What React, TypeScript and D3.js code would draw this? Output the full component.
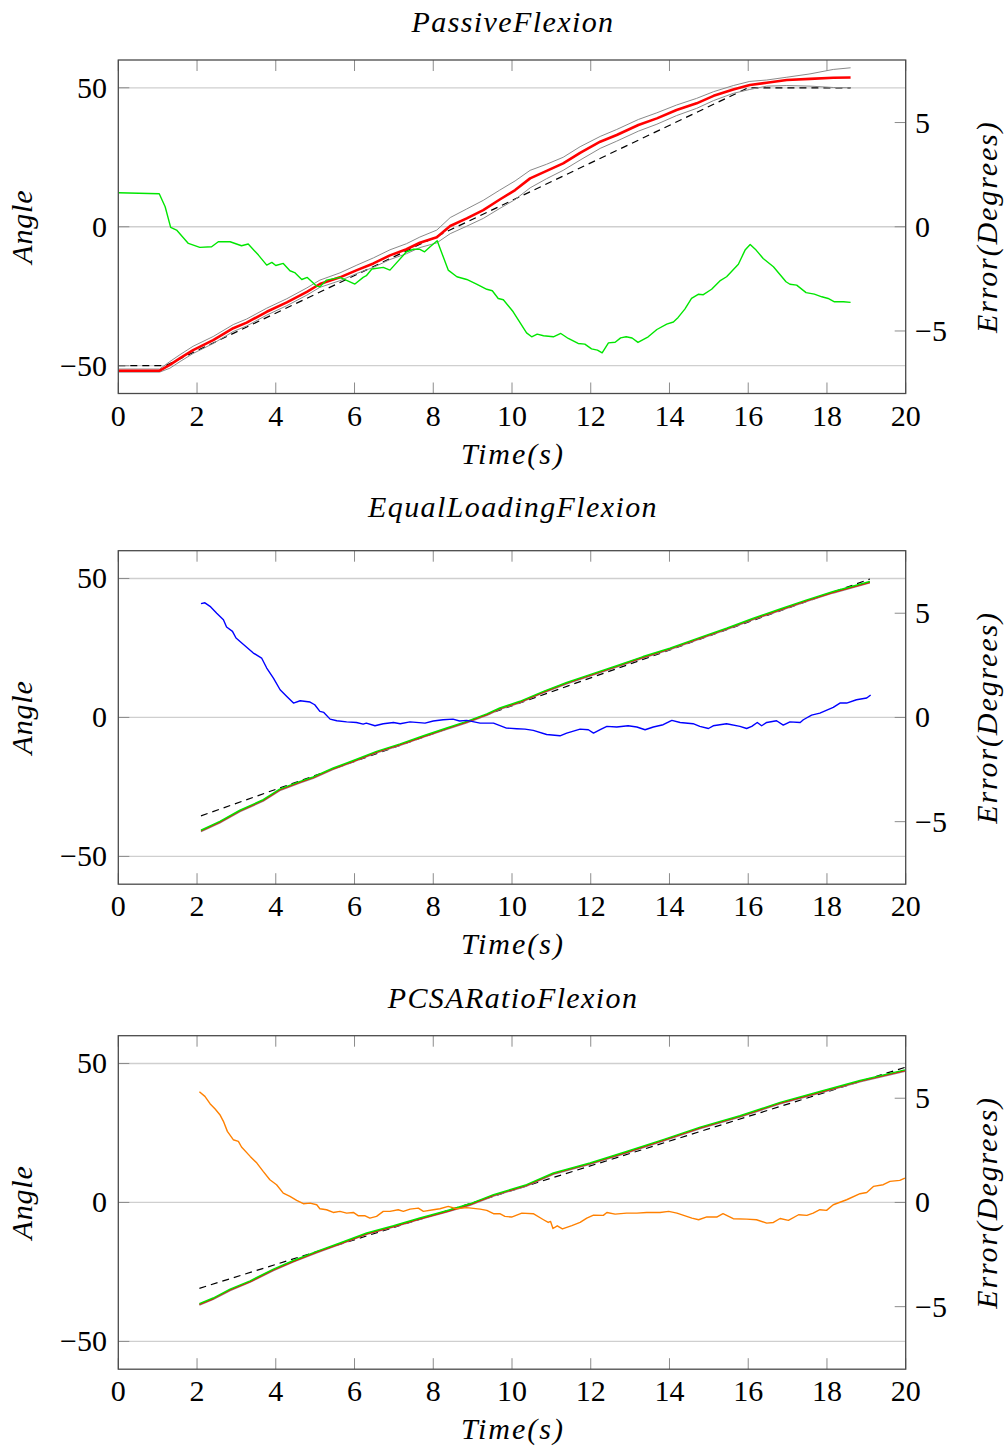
import React from 'react';
import * as d3 from 'd3';

// ---------- shared ticks ----------
const timeTicks = [0, 2, 4, 6, 8, 10, 12, 14, 16, 18, 20];
const angleTicks = [-50, 0, 50];
const errorTicks = [-5, 0, 5];
const titles = ['PassiveFlexion', 'EqualLoadingFlexion', 'PCSARatioFlexion'];

// ---------- Panel 1: Passive Flexion ----------
const p1DesiredT = [0, 1.2, 16.0, 18.6];
const p1DesiredV = [-50, -50, 50, 50];
const p1T = [0, 1.05, 1.31, 1.57, 1.9, 2.41, 2.92, 3.26, 3.77, 4.28, 4.79, 5.12, 5.63, 6.06, 6.48, 6.9, 7.32, 7.66, 8.09, 8.43, 8.85, 9.27, 9.69, 10.08, 10.46, 10.88, 11.3, 11.73, 12.24, 12.66, 13.21, 13.68, 14.18, 14.69, 15.12, 15.62, 16.04, 16.47, 16.98, 17.57, 18.16, 18.6];
const p1Mean = [-51.8, -51.8, -49.7, -47.3, -44.4, -40.8, -36.5, -34.5, -30.6, -27.2, -23.4, -20.6, -18.2, -15.6, -13.2, -10.3, -8.1, -5.75, -3.8, 0.25, 3.0, 6.0, 9.8, 13.2, 17.4, 20.1, 22.8, 26.6, 30.6, 33, 36.6, 39, 42, 44.4, 47.1, 49.4, 51, 51.8, 52.8, 53.2, 53.6, 53.7];
const p1Upper = [-51.2, -51.2, -48.5, -46.0, -43.0, -39.5, -35.2, -33.2, -29.3, -25.9, -22.0, -19.2, -16.6, -13.8, -11.2, -8.3, -6.1, -3.7, -1.2, 3.3, 6.4, 9.5, 13.2, 16.5, 20.3, 22.5, 25.0, 28.8, 32.5, 35.0, 38.6, 41.0, 43.8, 46.2, 48.6, 50.8, 52.3, 52.8, 53.8, 55.0, 56.6, 57.2];
const p1Lower = [-52.3, -52.3, -50.9, -48.5, -45.6, -42.0, -37.7, -35.7, -31.8, -28.4, -24.6, -21.8, -19.4, -16.8, -14.6, -11.8, -9.7, -7.5, -5.8, -2.5, 0.2, 3.0, 6.6, 9.8, 14.0, 17.3, 20.3, 24.0, 28.2, 30.8, 34.4, 36.9, 40.0, 42.6, 45.4, 48.0, 49.4, 50.6, 50.8, 50.6, 50.1, 50.0];
const p1ErrT = [0, 1.04, 1.19, 1.33, 1.48, 1.78, 2.07, 2.37, 2.54, 2.84, 3.13, 3.3, 3.56, 3.77, 3.9, 4.0, 4.19, 4.36, 4.48, 4.66, 4.8, 5.04, 5.12, 5.29, 5.63, 6.01, 6.22, 6.3, 6.44, 6.73, 6.9, 7.32, 7.5, 7.66, 7.78, 7.92, 8.1, 8.38, 8.6, 8.85, 9.1, 9.36, 9.5, 9.65, 9.78, 10.03, 10.37, 10.5, 10.64, 10.8, 11.05, 11.24, 11.43, 11.68, 11.85, 12.02, 12.17, 12.29, 12.45, 12.62, 12.76, 12.9, 13.05, 13.2, 13.46, 13.68, 13.93, 14.1, 14.22, 14.39, 14.56, 14.73, 14.86, 15.07, 15.28, 15.45, 15.75, 15.92, 16.05, 16.2, 16.38, 16.64, 16.96, 17.06, 17.23, 17.47, 17.68, 17.87, 18.03, 18.19, 18.42, 18.6];
const p1ErrV = [1.63, 1.58, 0.96, -0.03, -0.16, -0.8, -0.99, -0.96, -0.72, -0.72, -0.91, -0.83, -1.36, -1.84, -1.71, -1.86, -1.76, -2.11, -2.2, -2.53, -2.43, -2.85, -2.88, -2.56, -2.43, -2.75, -2.43, -2.35, -2.03, -1.95, -2.08, -1.2, -1.08, -1.08, -1.2, -0.96, -0.67, -2.08, -2.4, -2.53, -2.75, -3.0, -3.07, -3.44, -3.5, -4.08, -5.09, -5.28, -5.15, -5.23, -5.28, -5.12, -5.36, -5.6, -5.63, -5.86, -5.92, -6.05, -5.57, -5.54, -5.33, -5.28, -5.34, -5.55, -5.28, -4.93, -4.67, -4.57, -4.35, -3.95, -3.44, -3.24, -3.26, -3.0, -2.6, -2.4, -1.8, -1.12, -0.85, -1.12, -1.52, -1.92, -2.64, -2.76, -2.8, -3.16, -3.23, -3.36, -3.44, -3.6, -3.6, -3.63];

// ---------- Panel 2: Equal Loading Flexion ----------
const p2DesiredT = [2.1, 19.09];
const p2DesiredV = [-35.4, 49.8];
const p2T = [2.1, 2.58, 3.09, 3.68, 4.1, 4.62, 4.95, 5.46, 5.97, 6.56, 7.16, 7.75, 8.34, 8.85, 9.36, 9.69, 10.2, 10.8, 11.39, 11.98, 12.66, 13.33, 14.01, 14.78, 15.45, 16.13, 16.81, 17.49, 18.16, 19.09];
const p2Angle = [-40.6, -37.4, -33.4, -29.6, -25.8, -23, -21.4, -18.2, -15.5, -12.2, -9.5, -6.6, -3.8, -1.4, 1.3, 3.4, 5.8, 9.4, 12.6, 15.4, 18.6, 21.9, 24.9, 28.8, 32.1, 35.7, 39, 42.3, 45.3, 48.9];
const p2ErrT = [2.1, 2.2, 2.33, 2.5, 2.67, 2.75, 2.9, 2.99, 3.18, 3.43, 3.64, 3.77, 3.94, 4.11, 4.28, 4.45, 4.62, 4.87, 4.99, 5.12, 5.22, 5.38, 5.55, 5.8, 6.05, 6.22, 6.3, 6.52, 6.73, 6.99, 7.16, 7.41, 7.79, 8.0, 8.25, 8.5, 8.67, 8.85, 9.19, 9.53, 9.86, 10.12, 10.33, 10.54, 10.88, 11.22, 11.39, 11.73, 11.94, 12.07, 12.24, 12.41, 12.66, 12.95, 13.17, 13.38, 13.59, 13.84, 14.06, 14.27, 14.6, 14.77, 14.99, 15.11, 15.45, 15.79, 15.96, 16.09, 16.23, 16.34, 16.47, 16.72, 16.89, 17.06, 17.32, 17.4, 17.61, 17.82, 18.16, 18.33, 18.5, 18.75, 19.01, 19.11];
const p2ErrV = [5.46, 5.5, 5.33, 5.0, 4.69, 4.34, 4.13, 3.81, 3.5, 3.09, 2.85, 2.37, 1.89, 1.33, 1.01, 0.69, 0.8, 0.74, 0.61, 0.29, 0.24, -0.08, -0.16, -0.21, -0.24, -0.32, -0.27, -0.4, -0.3, -0.24, -0.3, -0.21, -0.27, -0.17, -0.11, -0.08, -0.17, -0.14, -0.27, -0.27, -0.51, -0.54, -0.56, -0.62, -0.82, -0.88, -0.75, -0.56, -0.59, -0.75, -0.59, -0.43, -0.46, -0.4, -0.46, -0.59, -0.46, -0.35, -0.14, -0.24, -0.3, -0.43, -0.53, -0.4, -0.3, -0.43, -0.53, -0.43, -0.24, -0.4, -0.24, -0.16, -0.37, -0.21, -0.24, -0.11, 0.11, 0.21, 0.48, 0.69, 0.69, 0.85, 0.93, 1.08];

// ---------- Panel 3: PCSA Ratio Flexion ----------
const p3DesiredT = [2.06, 19.98];
const p3DesiredV = [-30.9, 48.6];
const p3T = [2.06, 2.41, 2.84, 3.35, 3.94, 4.45, 5.04, 5.63, 6.31, 6.99, 7.66, 8.34, 8.93, 9.53, 10.37, 11.05, 11.98, 12.91, 13.84, 14.78, 15.79, 16.81, 17.82, 18.84, 19.98];
const p3Angle = [-36.4, -34.4, -31.2, -28.2, -24, -20.9, -17.6, -14.6, -11, -8.4, -5.6, -3.0, -0.5, 2.8, 6.4, 10.6, 14.2, 18.3, 22.6, 27.1, 31.2, 36, 39.9, 43.9, 47.7];
const p3ErrT = [2.06, 2.2, 2.33, 2.46, 2.58, 2.67, 2.77, 2.92, 3.05, 3.13, 3.35, 3.52, 3.68, 3.85, 4.02, 4.19, 4.36, 4.53, 4.7, 4.87, 5.04, 5.12, 5.29, 5.46, 5.63, 5.8, 5.97, 6.1, 6.27, 6.39, 6.56, 6.73, 6.9, 7.11, 7.24, 7.41, 7.62, 7.75, 8.0, 8.17, 8.38, 8.59, 8.85, 9.19, 9.36, 9.53, 9.69, 9.82, 9.99, 10.25, 10.54, 10.8, 10.92, 10.98, 11.04, 11.15, 11.28, 11.52, 11.73, 11.9, 12.07, 12.32, 12.41, 12.62, 12.91, 13.17, 13.42, 13.76, 13.98, 14.19, 14.57, 14.74, 14.95, 15.2, 15.36, 15.62, 15.96, 16.21, 16.47, 16.64, 16.81, 17.02, 17.28, 17.49, 17.65, 17.82, 17.99, 18.16, 18.5, 18.84, 19.01, 19.18, 19.43, 19.6, 19.85, 19.98];
const p3ErrV = [5.31, 5.09, 4.74, 4.48, 4.21, 3.89, 3.41, 3.01, 2.93, 2.66, 2.21, 1.89, 1.49, 1.09, 0.85, 0.45, 0.29, 0.1, -0.06, -0.03, -0.11, -0.3, -0.35, -0.48, -0.43, -0.51, -0.48, -0.64, -0.64, -0.75, -0.67, -0.43, -0.43, -0.35, -0.43, -0.32, -0.27, -0.43, -0.35, -0.3, -0.19, -0.3, -0.25, -0.32, -0.38, -0.54, -0.54, -0.67, -0.7, -0.51, -0.54, -0.83, -0.96, -0.91, -1.25, -1.12, -1.27, -1.11, -0.96, -0.75, -0.61, -0.62, -0.48, -0.56, -0.51, -0.51, -0.48, -0.48, -0.43, -0.51, -0.75, -0.83, -0.69, -0.7, -0.54, -0.78, -0.8, -0.83, -0.99, -0.96, -0.77, -0.86, -0.59, -0.62, -0.51, -0.35, -0.38, -0.11, 0.13, 0.42, 0.48, 0.77, 0.85, 1.01, 1.06, 1.17];

// ---------- layout ----------
const FONT = "'Liberation Serif', 'Times New Roman', Times, serif";
const FS = 30;
const X0 = 118.3;
const X1 = 905.7;
const PH = 333.5;
const panelTops = [60, 550.7, 1035.7];
const titleLift = [0, 6, 0];

type Series = {
  t: number[];
  v: number[];
  axis: 'left' | 'right';
  stroke: string;
  width: number;
  dash?: string;
  dy?: number;
};

function Panel({ top, title, lift, series }: { top: number; title: string; lift: number; series: Series[] }) {
  const x = d3.scaleLinear().domain([0, 20]).range([X0, X1]);
  const yL = d3.scaleLinear().domain([-60, 60]).range([top + PH, top]);
  const yR = d3.scaleLinear().domain([-8, 8]).range([top + PH, top]);
  const bottom = top + PH;
  const tickLen = 11;
  const tickColor = '#8c8c8c';
  const midX = (X0 + X1) / 2;
  const midY = top + PH / 2;

  const makePath = (s: Series) => {
    const y = s.axis === 'left' ? yL : yR;
    const line = d3
      .line<number>()
      .x((_, i) => x(s.t[i]))
      .y((d) => y(d));
    return line(s.v) || '';
  };

  return (
    <g>
      <text
        x={midX + 1}
        y={top - 28 - lift}
        textAnchor="middle"
        fontFamily={FONT}
        fontStyle="italic"
        fontSize={FS}
        letterSpacing={1.4}
      >
        {title}
      </text>
      {angleTicks.map((a) => (
        <line key={'g' + a} x1={X0} x2={X1} y1={yL(a)} y2={yL(a)} stroke="#cfcfcf" strokeWidth={1.3} />
      ))}
      {series.map((s, i) => (
        <path
          key={i}
          d={makePath(s)}
          fill="none"
          stroke={s.stroke}
          strokeWidth={s.width}
          strokeDasharray={s.dash}
          strokeLinejoin="round"
          transform={s.dy ? `translate(0,${s.dy})` : undefined}
        />
      ))}
      {timeTicks.map((t) => (
        <g key={'xt' + t}>
          <line x1={x(t)} x2={x(t)} y1={bottom} y2={bottom - tickLen} stroke={tickColor} strokeWidth={1} />
          <line x1={x(t)} x2={x(t)} y1={top} y2={top + tickLen} stroke={tickColor} strokeWidth={1} />
          <text x={x(t)} y={bottom + 32} textAnchor="middle" fontFamily={FONT} fontSize={FS}>
            {t}
          </text>
        </g>
      ))}
      {angleTicks.map((a) => (
        <g key={'yl' + a}>
          <line x1={X0} x2={X0 + tickLen} y1={yL(a)} y2={yL(a)} stroke={tickColor} strokeWidth={1} />
          <text x={107} y={yL(a) + 10} textAnchor="end" fontFamily={FONT} fontSize={FS}>
            {a < 0 ? '\u2212' + Math.abs(a) : String(a)}
          </text>
        </g>
      ))}
      {errorTicks.map((e) => (
        <g key={'yr' + e}>
          <line x1={X1 - tickLen} x2={X1} y1={yR(e)} y2={yR(e)} stroke={tickColor} strokeWidth={1} />
          <text x={915} y={yR(e) + 10} textAnchor="start" fontFamily={FONT} fontSize={FS}>
            {e < 0 ? '\u2212' + Math.abs(e) : String(e)}
          </text>
        </g>
      ))}
      <rect x={X0} y={top} width={X1 - X0} height={PH} fill="none" stroke="#4a4a4a" strokeWidth={1.3} />
      <text
        x={midX + 1}
        y={bottom + 70}
        textAnchor="middle"
        fontFamily={FONT}
        fontStyle="italic"
        fontSize={FS}
        letterSpacing={2}
      >
        Time(s)
      </text>
      <text
        transform={`translate(32,${midY}) rotate(-90)`}
        textAnchor="middle"
        fontFamily={FONT}
        fontStyle="italic"
        fontSize={FS}
        letterSpacing={0.8}
      >
        Angle
      </text>
      <text
        transform={`translate(997,${midY}) rotate(-90)`}
        textAnchor="middle"
        fontFamily={FONT}
        fontStyle="italic"
        fontSize={FS}
        letterSpacing={1.9}
      >
        Error(Degrees)
      </text>
    </g>
  );
}

export default function App() {
  const GREEN = '#00e600';
  const panel1: Series[] = [
    { t: p1DesiredT, v: p1DesiredV, axis: 'left', stroke: '#000', width: 1.2, dash: '7,5' },
    { t: p1T, v: p1Upper, axis: 'left', stroke: '#8a8a8a', width: 1 },
    { t: p1T, v: p1Lower, axis: 'left', stroke: '#8a8a8a', width: 1 },
    { t: p1T, v: p1Mean, axis: 'left', stroke: '#ff0000', width: 2.6 },
    { t: p1ErrT, v: p1ErrV, axis: 'right', stroke: GREEN, width: 1.4 },
  ];
  const panel2: Series[] = [
    { t: p2DesiredT, v: p2DesiredV, axis: 'left', stroke: '#000', width: 1.2, dash: '7,5' },
    { t: p2T, v: p2Angle, axis: 'left', stroke: '#8a8a8a', width: 1.4, dy: 1.4 },
    { t: p2T, v: p2Angle, axis: 'left', stroke: '#ff0000', width: 1.4, dy: 0.7 },
    { t: p2T, v: p2Angle, axis: 'left', stroke: GREEN, width: 1.5 },
    { t: p2ErrT, v: p2ErrV, axis: 'right', stroke: '#0000ff', width: 1.4 },
  ];
  const panel3: Series[] = [
    { t: p3DesiredT, v: p3DesiredV, axis: 'left', stroke: '#000', width: 1.2, dash: '7,5' },
    { t: p3T, v: p3Angle, axis: 'left', stroke: '#8a8a8a', width: 1.4, dy: 1.4 },
    { t: p3T, v: p3Angle, axis: 'left', stroke: '#ff0000', width: 1.4, dy: 0.7 },
    { t: p3T, v: p3Angle, axis: 'left', stroke: GREEN, width: 1.5 },
    { t: p3ErrT, v: p3ErrV, axis: 'right', stroke: '#ff8000', width: 1.4 },
  ];
  const all = [panel1, panel2, panel3];
  return (
    <svg
      width={1006}
      height={1451}
      viewBox="0 0 1006 1451"
      style={{ position: 'absolute', left: 0, top: 0, background: '#fff' }}
    >
      <rect x={0} y={0} width={1006} height={1451} fill="#fff" />
      {all.map((s, i) => (
        <Panel key={i} top={panelTops[i]} title={titles[i]} lift={titleLift[i]} series={s} />
      ))}
    </svg>
  );
}
